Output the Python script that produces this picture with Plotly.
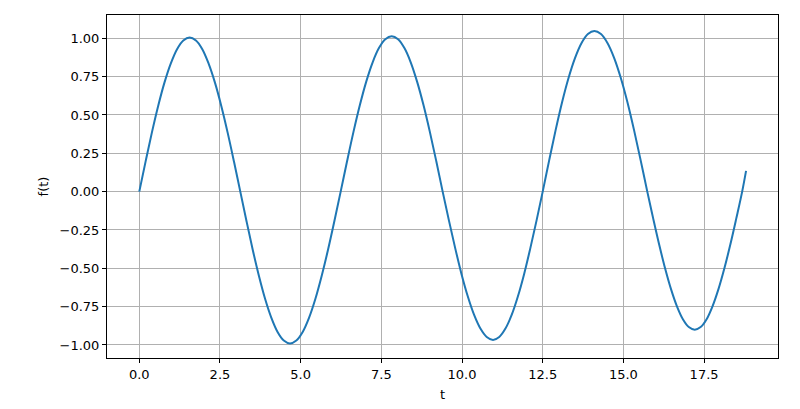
import plotly.graph_objects as go

t = [0.000, 0.195, 0.390, 0.585, 0.780, 0.975, 1.170, 1.365, 1.560,
     1.756, 1.953, 2.149, 2.345, 2.541, 2.738, 2.934, 3.130,
     3.323, 3.515, 3.708, 3.900, 4.093, 4.285, 4.478, 4.670,
     4.866, 5.063, 5.259, 5.455, 5.651, 5.848, 6.044, 6.240,
     6.438, 6.635, 6.833, 7.030, 7.228, 7.425, 7.623, 7.820,
     8.018, 8.215, 8.413, 8.610, 8.808, 9.005, 9.203, 9.400,
     9.595, 9.790, 9.985, 10.180, 10.375, 10.570, 10.765, 10.960,
     11.153, 11.345, 11.538, 11.730, 11.923, 12.115, 12.308, 12.500,
     12.700, 12.900, 13.100, 13.300, 13.500, 13.700, 13.900, 14.100,
     14.305, 14.510, 14.715, 14.920, 15.125, 15.330, 15.535, 15.740,
     15.924, 16.108, 16.291, 16.475, 16.659, 16.843, 17.026, 17.210,
     17.394, 17.578, 17.761, 17.945, 18.129, 18.313, 18.496, 18.680, 18.800]
f = [0.000, 0.196, 0.385, 0.559, 0.711, 0.835, 0.929, 0.986, 1.005,
     0.986, 0.929, 0.835, 0.711, 0.559, 0.385, 0.196, 0.000,
     -0.193, -0.379, -0.550, -0.700, -0.823, -0.915, -0.971, -0.990,
     -0.971, -0.915, -0.823, -0.700, -0.550, -0.379, -0.193, 0.000,
     0.198, 0.388, 0.563, 0.716, 0.842, 0.936, 0.994, 1.013,
     0.994, 0.936, 0.842, 0.716, 0.563, 0.388, 0.198, 0.000,
     -0.189, -0.370, -0.538, -0.684, -0.804, -0.893, -0.948, -0.967,
     -0.948, -0.893, -0.804, -0.684, -0.538, -0.370, -0.189, 0.000,
     0.204, 0.401, 0.583, 0.741, 0.871, 0.968, 1.028, 1.048,
     1.028, 0.968, 0.871, 0.741, 0.583, 0.401, 0.204, 0.000,
     -0.176, -0.345, -0.500, -0.636, -0.748, -0.832, -0.883, -0.900,
     -0.883, -0.832, -0.748, -0.636, -0.500, -0.345, -0.176, 0.000, 0.135]

x_ticks = [0.0, 2.5, 5.0, 7.5, 10.0, 12.5, 15.0, 17.5]
x_tick_labels = ["0.0", "2.5", "5.0", "7.5", "10.0", "12.5", "15.0", "17.5"]
y_ticks = [-1.0, -0.75, -0.5, -0.25, 0.0, 0.25, 0.5, 0.75, 1.0]
y_tick_labels = ["−1.00", "−0.75", "−0.50", "−0.25", "0.00", "0.25", "0.50", "0.75", "1.00"]

fig = go.Figure()
fig.add_trace(go.Scatter(x=t, y=f, mode="lines",
                         line=dict(color="#1f77b4", width=2, shape="spline", smoothing=1.0),
                         showlegend=False, hoverinfo="skip"))

axis_common = dict(showline=True, linecolor="black", linewidth=1, mirror=True,
                   ticks="outside", ticklen=4, tickcolor="black", tickwidth=1,
                   showgrid=True, gridcolor="#b0b0b0", gridwidth=1, zeroline=False,
                   automargin=False,
                   tickfont=dict(family="DejaVu Sans", size=13, color="black"))

# page body has an 8px margin, so the figure is sized 8px smaller each way
fig.update_layout(
    width=792, height=401,
    margin=dict(l=99, r=22, t=7, b=51),
    paper_bgcolor="white", plot_bgcolor="white",
    xaxis=dict(range=[-1.0, 19.79], tickvals=x_ticks, ticktext=x_tick_labels,
               title=dict(text="t", font=dict(family="DejaVu Sans", size=13, color="black"), standoff=9),
               **axis_common),
    yaxis=dict(range=[-1.085, 1.152], tickvals=y_ticks, ticktext=y_tick_labels,
               title=dict(text="f(t)", font=dict(family="DejaVu Sans", size=13, color="black"), standoff=8),
               **axis_common),
)

fig.write_html("out.html")
